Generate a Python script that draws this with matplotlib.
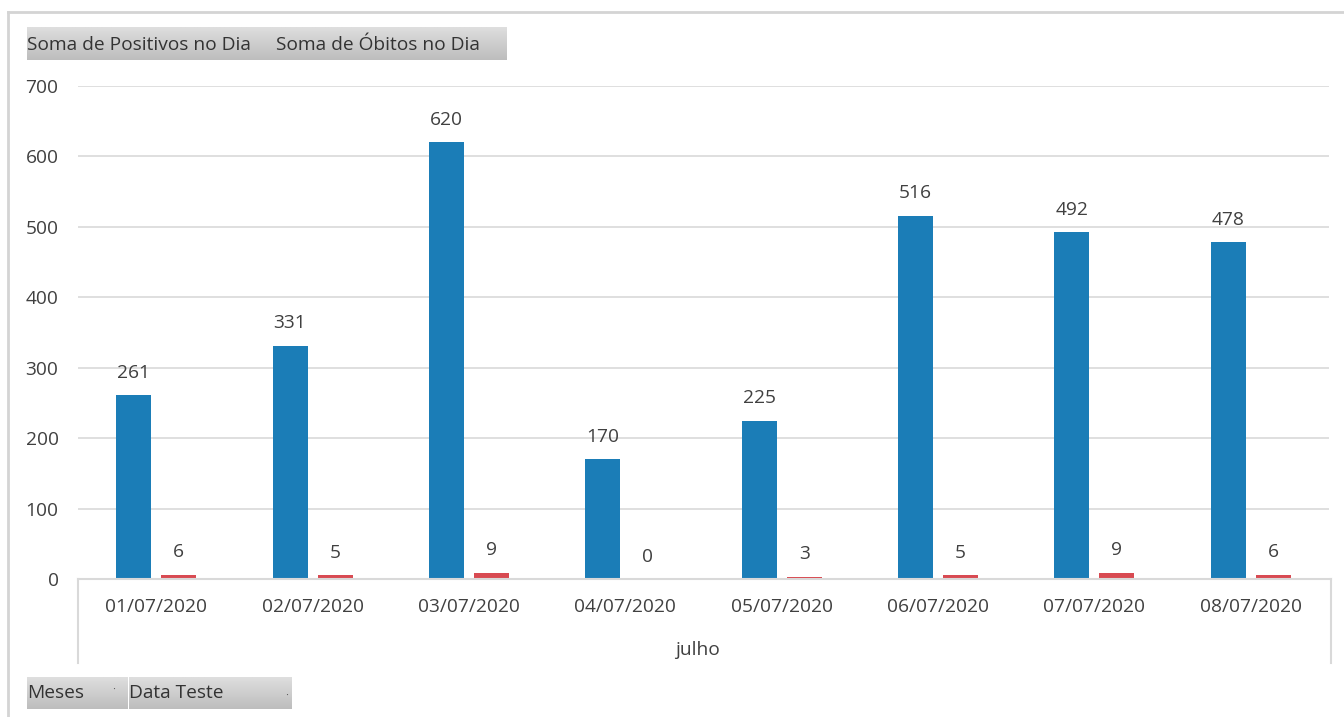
import matplotlib
matplotlib.use('Agg')
import matplotlib.pyplot as plt
import numpy as np
from matplotlib.lines import Line2D

plt.rcParams['font.family'] = ['Open Sans', 'DejaVu Sans']

# ── dados ──
datas = ['01/07/2020', '02/07/2020', '03/07/2020', '04/07/2020',
         '05/07/2020', '06/07/2020', '07/07/2020', '08/07/2020']
positivos = [261, 331, 620, 170, 225, 516, 492, 478]
obitos = [6, 5, 9, 0, 3, 5, 9, 6]
y_ticks = [0, 100, 200, 300, 400, 500, 600, 700]

W, H = 1344, 717
AZUL = '#1b7db7'
VERMELHO = '#d84a52'
TEXTO = '#404040'
GRADE = '#d9d9d9'
FS = 13.8

fig = plt.figure(figsize=(W / 100, H / 100), dpi=100)
fig.patch.set_facecolor('white')


def fx(px):
    return px / W


def fy(py):
    return 1 - py / H


ax = fig.add_axes([fx(78), fy(579), fx(1329) - fx(78), fy(86) - fy(579)])
ax.set_xlim(-0.5, 7.5)
ax.set_ylim(0, 700)

x = np.arange(len(datas))
larg = 0.224
desl = 0.144
ax.bar(x - desl, positivos, larg, color=AZUL, zorder=3)
ax.bar(x + desl, obitos, larg, color=VERMELHO, zorder=3)

for xi, v in zip(x - desl, positivos):
    ax.annotate(str(v), (xi, v), xytext=(0, 16.2), textcoords='offset points',
                ha='center', va='center', fontsize=FS, color=TEXTO)
for xi, v in zip(x + desl, obitos):
    ax.annotate(str(v), (xi, v), xytext=(0, 16.2), textcoords='offset points',
                ha='center', va='center', fontsize=FS, color=TEXTO)

ax.set_yticks(y_ticks)
ax.set_yticklabels([str(t) for t in y_ticks])
ax.set_xticks(x)
ax.set_xticklabels(datas)
ax.tick_params(axis='y', length=0, pad=14, labelsize=FS, labelcolor=TEXTO)
ax.tick_params(axis='x', length=0, pad=14, labelsize=FS, labelcolor=TEXTO)
ax.grid(axis='y', color=GRADE, linewidth=1.2, zorder=0)
for s in ax.spines.values():
    s.set_visible(False)

# eixo de categorias (caixa)
for seg in [((78, 1331), (579, 579)), ((78, 78), (579, 663)), ((1331, 1331), (579, 663))]:
    fig.add_artist(Line2D([fx(seg[0][0]), fx(seg[0][1])], [fy(seg[1][0]), fy(seg[1][1])],
                          color=GRADE, lw=1.5, zorder=5))
fig.text(fx(697), fy(650), 'julho', ha='center', va='center', fontsize=FS, color=TEXTO)

# moldura externa
fig.add_artist(Line2D([fx(8), fx(1344)], [fy(12), fy(12)], color='#d4d4d4', lw=2))
fig.add_artist(Line2D([fx(8), fx(8)], [fy(12), fy(717)], color='#d4d4d4', lw=2))


# botões cinzentos (gradiente)
def botao(x0, x1, y0, y1):
    grad = np.linspace(0.87, 0.74, 50).reshape(-1, 1)
    img = np.repeat(grad, 2, axis=1)
    bax = fig.add_axes([fx(x0), fy(y1), fx(x1) - fx(x0), fy(y0) - fy(y1)])
    bax.imshow(img, cmap='gray', vmin=0, vmax=1, aspect='auto', extent=(0, 1, 0, 1))
    bax.axis('off')


botao(27, 507, 27, 60)
fig.text(fx(27), fy(45), 'Soma de Positivos no Dia', ha='left', va='center',
         fontsize=FS, color='#333333')
fig.text(fx(276), fy(45), 'Soma de Óbitos no Dia', ha='left', va='center',
         fontsize=FS, color='#333333')

botao(27, 128, 677, 709)
botao(129, 292, 677, 709)
fig.text(fx(27), fy(693), 'Meses', ha='left', va='center', fontsize=FS, color='#333333')
fig.text(fx(129), fy(693), 'Data Teste', ha='left', va='center', fontsize=FS, color='#333333')
fig.text(fx(114), fy(690), '·', ha='center', va='center', fontsize=8, color='#555555')
fig.text(fx(287), fy(696), '·', ha='center', va='center', fontsize=8, color='#555555')

fig.savefig('out.png', dpi=100, facecolor='white')
